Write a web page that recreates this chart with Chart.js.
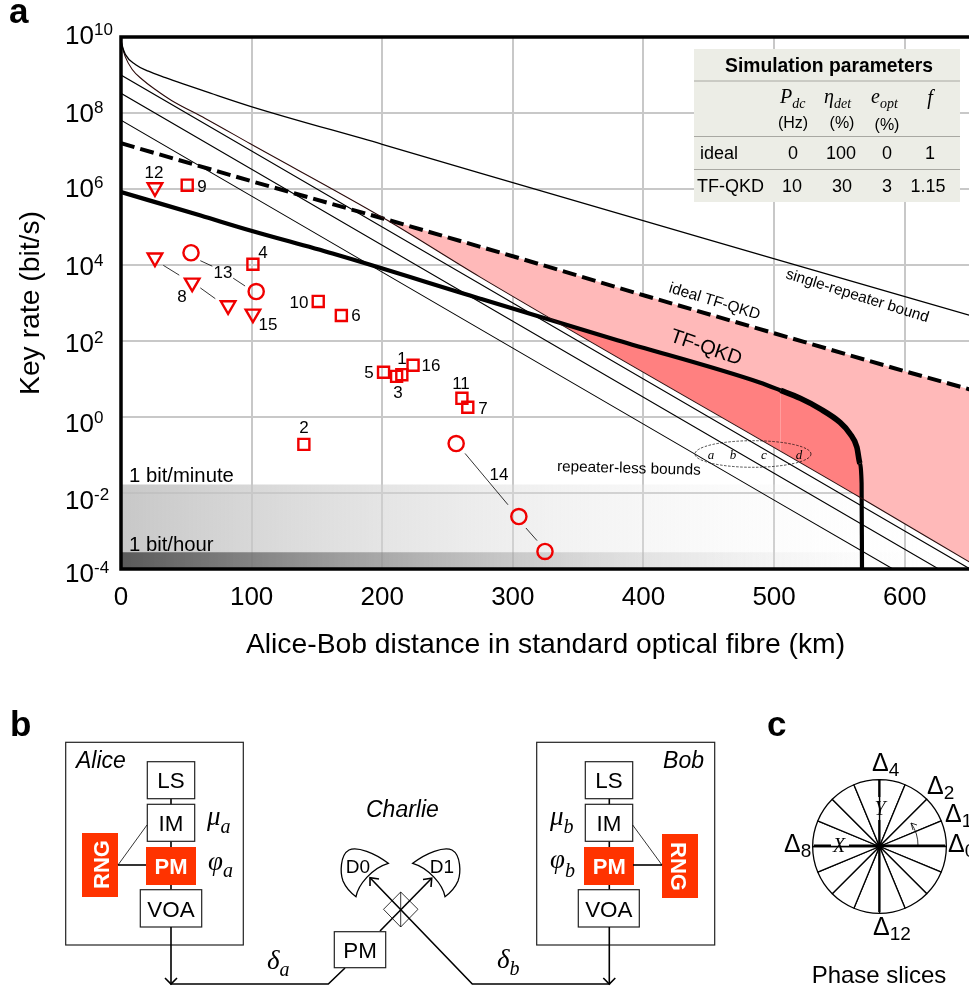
<!DOCTYPE html>
<html>
<head>
<meta charset="utf-8">
<title>TF-QKD key rate</title>
<script src="https://cdn.jsdelivr.net/npm/chart.js"></script>
<style>
  html, body { margin: 0; padding: 0; background: #fff; overflow: hidden; }
  #page { position: relative; width: 969px; height: 994px; overflow: hidden; font-family: "Liberation Sans", Arial, sans-serif; }
  #mainChart { position: absolute; left: 0; top: 0; }
  #phaseChart { position: absolute; left: 811px; top: 778px; }
  #overlay { position: absolute; left: 0; top: 0; }
  #overlay text { fill: #000; font-family: "Liberation Sans", Arial, sans-serif; }
  #overlay .math { font-family: "Liberation Serif", serif; font-style: italic; }
  #overlay .it { font-style: italic; }
  #overlay .box { fill: #fff; stroke: #222; stroke-width: 1.2; }
  #overlay .wire { stroke: #000; stroke-width: 1.6; fill: none; }
  #overlay .thin { stroke: #000; stroke-width: 0.8; fill: none; }
</style>
</head>
<body>
<div id="page">
  <canvas id="mainChart" width="970" height="680"></canvas>
  <canvas id="phaseChart" width="137" height="137"></canvas>
  <svg id="overlay" width="969" height="994" xmlns="http://www.w3.org/2000/svg"></svg>
</div>
<script>
// ---------- chart data (distance in km, rate in bit/s) ----------
const xTicks = [0, 100, 200, 300, 400, 500, 600];
const yExponents = [10, 8, 6, 4, 2, 0, -2, -4];

const singleKm = [0, 1, 3.3, 11, 21, 34, 47, 64.5, 99, 200, 275, 499, 650];
const singleRate = [8.4e9, 5.8e9, 3.5e9, 1.9e9, 1.26e9, 8.5e8, 5.9e8, 3.7e8, 1.5e8, 1.5e7, 2.6e6, 1.5e4, 470];

const boundDKm = [0, 1, 3.3, 8.6, 16.3, 26, 39, 64.5, 99, 200, 275, 566, 650];
const boundDRate = [8.4e9, 5.5e9, 3e9, 1.4e9, 7.6e8, 4.2e8, 2.1e8, 7.2e7, 1.55e7, 1.8e5, 4.8e3, 7.6e-3, 1.5e-4];

const boundCKm = [0, 100, 200, 300, 400, 500, 600, 650];
const boundCRate = [1e9, 1e7, 1e5, 1e3, 10, 0.1, 1e-3, 1e-4];

const boundBKm = [0, 100, 200, 300, 400, 500, 600, 626];
const boundBRate = [3.3e8, 3.3e6, 3.3e4, 330, 3.3, 0.033, 3.3e-4, 1e-4];

const boundAKm = [0, 100, 200, 300, 400, 500, 591];
const boundARate = [6.5e7, 6.5e5, 6.5e3, 65, 0.65, 6.5e-3, 1e-4];

const idealKm = [0, 100, 200, 300, 400, 500, 600, 650];
const idealRate = [1.6e7, 1.6e6, 1.7e5, 1.7e4, 1.6e3, 160, 16, 5.3];

const tfKm = [0, 61, 99, 162, 275, 380, 489, 505, 520, 535, 550.5, 558, 563.4, 565.7, 567, 567.3];
const tfRate = [8.3e5, 2e5, 8.1e4, 2e4, 1.3e3, 105, 8.1, 5, 3.1, 1.66, 0.72, 0.37, 0.16, 0.06, 0.018, 1e-4];

const squareIds = ["9", "4", "10", "6", "5", "3", "1", "16", "11", "7", "2"];
const squareKm = [50.7, 101, 151, 168.7, 201, 211, 215, 223.6, 261, 265.5, 140];
const squareRate = [1.26e6, 1.05e4, 1.1e3, 470, 15, 11.7, 13, 23, 3.1, 1.8, 0.19];

const circleIds = ["13", "13", "14", "14", "14"];
const circleKm = [53.6, 103.5, 256.6, 304.6, 324.6];
const circleRate = [2.1e4, 2e3, 0.2, 2.4e-3, 2.9e-4];

const triangleIds = ["12", "8", "8", "8", "15"];
const triangleKm = [26, 26, 54.5, 82, 101];
const triangleRate = [1.1e6, 1.55e4, 3.4e3, 860, 520];

// thin broken leader lines joining measurements of the same experiment
const leaderKm = [60.7, 69.9, null, 85.9, 95, null, 32.4, 44.6, null, 60.7, 72.2, null, 263.4, 296.3, null, 310, 318.5];
const leaderRate = [1.3e4, 9.3e3, null, 4.5e3, 2.8e3, null, 9.8e3, 5.4e3, null, 2.5e3, 1.3e3, null, 0.11, 4.9e-3, null, 1.2e-3, 5.6e-4];

const bandKm = [0, 650];
const bitPerMinute = [1 / 60, 1 / 60];
const bitPerHour = [1 / 3600, 1 / 3600];

const phaseSlices = [1, 1, 1, 1, 1, 1, 1, 1, 1, 1, 1, 1, 1, 1, 1, 1];

function pts(xs, ys) {
  return xs.map((x, i) => ({ x: x, y: ys[i] }));
}

const SANS = '"Liberation Sans", Arial, sans-serif';

function fade(startColor) {
  return (ctx) => {
    const area = ctx.chart.chartArea;
    if (!area) return startColor;
    const g = ctx.chart.ctx.createLinearGradient(area.left, 0, area.right, 0);
    g.addColorStop(0, startColor);
    g.addColorStop(1, "rgba(255,255,255,0)");
    return g;
  };
}

function curve(label, xs, ys, color, width, extra) {
  return Object.assign({
    label: label, data: pts(xs, ys), borderColor: color, borderWidth: width,
    pointRadius: 0, fill: false, order: 5
  }, extra || {});
}

function marks(label, xs, ys, style, radius, rotation) {
  return {
    label: label, data: pts(xs, ys), showLine: false, pointStyle: style,
    pointRadius: radius, pointRotation: rotation, pointBackgroundColor: "rgba(0,0,0,0)",
    pointBorderColor: "#f00000", pointBorderWidth: 2.4, order: 1
  };
}

/* ================================
   Plugin: superscript y labels and plot frame
================================ */
const framePlugin = {
  id: "frame",
  afterDraw(chart) {
    const { ctx, chartArea: a, scales } = chart;
    const nudge = [6.5, 9, 8, 10, 10.7, 14.5, 15.7, 13];
    ctx.save();
    ctx.fillStyle = "#000";
    ctx.textAlign = "left";
    ctx.textBaseline = "alphabetic";
    yExponents.forEach((e, i) => {
      const py = scales.y.getPixelForValue(Math.pow(10, e)) + nudge[i];
      ctx.font = "26px " + SANS;
      ctx.fillText("10", 65, py);
      ctx.font = "17px " + SANS;
      ctx.fillText(String(e), 94, py - 9);
    });
    ctx.strokeStyle = "#000";
    ctx.lineWidth = 3.5;
    ctx.strokeRect(a.left, a.top, a.width + 10, a.height);
    ctx.restore();
  }
};

/* ================================
   Chart: key rate vs distance
================================ */
const datasets = [
  curve("1 bit/minute", bandKm, bitPerMinute, "rgba(0,0,0,0)", 0, {
    fill: "start", backgroundColor: fade("rgba(190,190,190,0.85)"), order: 10 }),
  curve("1 bit/hour", bandKm, bitPerHour, "rgba(0,0,0,0)", 0, {
    fill: "start", backgroundColor: fade("rgba(70,70,70,0.85)"), order: 9 }),
  curve("single-repeater bound", singleKm, singleRate, "#000", 1.3, { cubicInterpolationMode: "monotone" }),
  curve("bound d", boundDKm, boundDRate, "#2a0d0d", 1.1, { cubicInterpolationMode: "monotone" }),
  curve("bound c", boundCKm, boundCRate, "#000", 1.1),
  curve("bound b", boundBKm, boundBRate, "#000", 1.1),
  curve("bound a", boundAKm, boundARate, "#000", 1.1),
  curve("ideal TF-QKD", idealKm, idealRate, "#000", 4, {
    borderDash: [14, 6], order: 8,
    fill: { target: 3, above: "#ffb9b9", below: "rgba(0,0,0,0)" } }),
  curve("TF-QKD", tfKm, tfRate, "#000", 4.2, {
    order: 7, cubicInterpolationMode: "monotone",
    segment: { borderWidth: (c) => (c.p0.parsed.x >= 500 && c.p1.parsed.x < 566 ? 5.6 : undefined) },
    fill: { target: 3, above: "#ff8080", below: "rgba(0,0,0,0)" } }),
  curve("leaders", leaderKm, leaderRate, "#000", 0.8, { spanGaps: false, order: 4 }),
  marks("squares", squareKm, squareRate, "rect", 7.8, 0),
  marks("circles", circleKm, circleRate, "circle", 7.6, 0),
  marks("triangles", triangleKm, triangleRate, "triangle", 8.4, 180)
];

new Chart(document.getElementById("mainChart").getContext("2d"), {
  type: "line",
  data: { datasets: datasets },
  plugins: [framePlugin],
  options: {
    responsive: false,
    animation: false,
    layout: { autoPadding: false, padding: { top: 37, left: 0, right: 0, bottom: 0 } },
    plugins: { legend: { display: false }, tooltip: { enabled: false } },
    scales: {
      x: {
        type: "linear", min: 0, max: 650,
        afterBuildTicks: (s) => { s.ticks = xTicks.map((v) => ({ value: v })); },
        afterFit: (s) => { s.height = 111; },
        grid: { color: "#c8c8c8", lineWidth: 2, drawTicks: false },
        border: { display: false },
        ticks: { color: "#000", maxRotation: 0, padding: 13, font: { family: SANS, size: 26 } },
        title: { display: true, text: "Alice-Bob distance in standard optical fibre (km)", color: "#000",
          font: { family: SANS, size: 28.3 }, padding: { top: 0, bottom: 18 } }
      },
      y: {
        type: "logarithmic", min: 1e-4, max: 1e10,
        afterBuildTicks: (s) => { s.ticks = yExponents.map((e) => ({ value: Math.pow(10, e) })); },
        afterFit: (s) => { s.width = 121; },
        grid: { color: "#c8c8c8", lineWidth: 2, drawTicks: false },
        border: { display: false },
        ticks: { display: false },
        title: { display: true, text: "Key rate (bit/s)", color: "#000",
          font: { family: SANS, size: 28.3 }, padding: { top: 14, bottom: 0 } }
      }
    }
  }
});

/* ================================
   Chart: phase slices
================================ */
new Chart(document.getElementById("phaseChart").getContext("2d"), {
  type: "pie",
  data: { labels: phaseSlices.map((v, i) => "slice " + i), datasets: [{
    data: phaseSlices, backgroundColor: "#fff", borderColor: "#000", borderWidth: 1.3, borderAlign: "center"
  }] },
  options: {
    responsive: false, animation: false,
    layout: { padding: 1 },
    plugins: { legend: { display: false }, tooltip: { enabled: false } }
  }
});

/* ================================
   Annotations and block diagram
================================ */
const markLabels = [
  ["12", 154, 178], ["9", 202, 192], ["4", 263, 258], ["13", 223, 278], ["8", 182, 302],
  ["15", 268, 330], ["10", 299, 308], ["6", 356, 321], ["5", 369, 378], ["1", 402, 364],
  ["16", 431, 371], ["3", 398, 398], ["11", 461, 389], ["7", 483, 414], ["2", 304, 433], ["14", 499, 480]
];

function sub(base, s, cls, size, subSize, x, y, dy) {
  return `<text class="${cls}" x="${x}" y="${y}" font-size="${size}">${base}<tspan dy="${dy || 5}" font-size="${subSize}">${s}</tspan></text>`;
}

function box(x, y, x2, y2, label, size, baseline) {
  const cx = (x + x2) / 2;
  return `<rect class="box" x="${x}" y="${y}" width="${x2 - x}" height="${y2 - y}"/>` +
    `<text x="${cx}" y="${baseline}" text-anchor="middle" font-size="${size}">${label}</text>`;
}

const detectorPath = "M388.3,863.3 C375,853 357,846 349,850 C340,855 340,873 343,881 C346,888 351,893 356,896.7 C358,885 372,868 388.3,863.3 Z";

function station(cx, ls, voa, rngBox, rngTextTransform) {
  let s = "";
  s += `<line class="wire" x1="${cx}" y1="798" x2="${cx}" y2="890"/>`;
  s += box(ls[0], 761.7, ls[1], 798.7, "LS", 22.4, 788);
  s += box(ls[0], 804.3, ls[1], 841.3, "IM", 22.4, 830.5);
  s += `<rect x="${ls[0] - 1.3}" y="847" width="${ls[1] - ls[0] + 2.6}" height="38" fill="#ff3300"/>`;
  s += `<text style="fill:#fff" font-weight="bold" font-size="22" text-anchor="middle" x="${cx}" y="873.5">PM</text>`;
  s += box(voa[0], 889.7, voa[1], 927, "VOA", 22.4, 917);
  s += `<rect x="${rngBox[0]}" y="${rngBox[1]}" width="36" height="64" fill="#ff3300"/>`;
  s += `<text style="fill:#fff" font-weight="bold" font-size="22" text-anchor="middle" transform="${rngTextTransform}">RNG</text>`;
  return s;
}

const svg = document.getElementById("overlay");
let html = "";

// panel letters
html += `<text x="9" y="23" font-size="35" font-weight="bold">a</text>`;
html += `<text x="10" y="736" font-size="35" font-weight="bold">b</text>`;
html += `<text x="767" y="736" font-size="35" font-weight="bold">c</text>`;

// band captions and curve captions
html += `<text x="129" y="482" font-size="20.3">1 bit/minute</text>`;
html += `<text x="129" y="551" font-size="20.3">1 bit/hour</text>`;
html += `<text font-size="15.5" transform="translate(668,292) rotate(17)">ideal TF-QKD</text>`;
html += `<text font-size="15.3" transform="translate(785,278) rotate(17.3)">single-repeater bound</text>`;
html += `<text font-size="20" transform="translate(669,341) rotate(19)">TF-QKD</text>`;
html += `<text font-size="15.3" transform="translate(557,471) rotate(1.5)">repeater-less bounds</text>`;
html += `<ellipse cx="753" cy="454" rx="58" ry="13.3" fill="none" stroke="#000" stroke-width="0.7" stroke-dasharray="2.5 1.5"/>`;
[["a", 711], ["b", 733], ["c", 764], ["d", 799]].forEach((p) => {
  html += `<text class="math" x="${p[1]}" y="459" font-size="13" text-anchor="middle">${p[0]}</text>`;
});
markLabels.forEach((m) => {
  html += `<text x="${m[1]}" y="${m[2]}" font-size="17" text-anchor="middle">${m[0]}</text>`;
});

// parameter table
html += `<rect x="694" y="49" width="266" height="153" fill="#ecede6"/>`;
[81, 136.5, 169.5].forEach((y) => {
  html += `<line x1="694" x2="960" y1="${y}" y2="${y}" stroke="#a8a8a2" stroke-width="1"/>`;
});
html += `<text x="829" y="72" font-size="19.3" font-weight="bold" text-anchor="middle">Simulation parameters</text>`;
html += sub("P", "dc", "math", 20, 14, 780, 103);
html += sub("η", "det", "math", 20, 14, 824, 103);
html += sub("e", "opt", "math", 20, 14, 871, 103);
html += `<text class="math" x="930" y="104" font-size="20" text-anchor="middle">f</text>`;
html += `<text x="793" y="128" font-size="16" text-anchor="middle">(Hz)</text>`;
html += `<text x="842" y="128" font-size="16" text-anchor="middle">(%)</text>`;
html += `<text x="887" y="130" font-size="16" text-anchor="middle">(%)</text>`;
html += `<text x="700" y="159" font-size="18">ideal</text>`;
html += `<text x="697" y="192" font-size="18">TF-QKD</text>`;
[["0", 793, 159], ["100", 841, 159], ["0", 887, 159], ["1", 930, 159],
 ["10", 792, 192], ["30", 842, 192], ["3", 887, 192], ["1.15", 928, 192]].forEach((c) => {
  html += `<text x="${c[1]}" y="${c[2]}" font-size="18" text-anchor="middle">${c[0]}</text>`;
});

// Alice and Bob enclosures
html += `<rect x="65.7" y="742.3" width="177.6" height="202.7" fill="none" stroke="#222" stroke-width="1.2"/>`;
html += `<rect x="536.7" y="742.3" width="178" height="202.7" fill="none" stroke="#222" stroke-width="1.2"/>`;
html += `<text class="it" x="76" y="768" font-size="23">Alice</text>`;
html += `<text class="it" x="704" y="768" font-size="23" text-anchor="end">Bob</text>`;
html += `<text class="it" x="366" y="817" font-size="23">Charlie</text>`;

html += station(171, [147.3, 194.7], [140.3, 201.7], [82, 833], "translate(109,864.5) rotate(-90)");
html += station(609.3, [585.3, 632.7], [578.3, 639.3], [662, 834], "translate(671,866.5) rotate(90)");

// RNG wiring
html += `<line class="wire" x1="118" y1="865" x2="146" y2="865"/>`;
html += `<line class="thin" x1="118" y1="865" x2="147" y2="825"/>`;
html += `<line class="wire" x1="633" y1="865" x2="662" y2="865"/>`;
html += `<line class="thin" x1="632.7" y1="825" x2="662" y2="865"/>`;

// fibre path
html += `<path class="wire" d="M171,927 V984 H328.3 L345,968"/>`;
html += `<path class="wire" d="M609.3,927 V984 H472.3 L370,877.7"/>`;
html += `<path class="wire" d="M380,931 L431.7,878.3"/>`;
html += `<path class="wire" d="M165,978 L171,984 L177,978"/>`;
html += `<path class="wire" d="M603.3,978 L609.3,984 L615.3,978"/>`;
html += `<path class="wire" d="M370,886 L370,877.7 L379,879"/>`;
html += `<path class="wire" d="M423,879.5 L431.7,878.3 L431,887"/>`;

// beam splitter, detectors and Charlie's modulator
html += `<path class="thin" d="M400.7,892 L418,909.3 L400.7,927 L383.5,909.3 Z M400.7,892 V927"/>`;
html += `<path d="${detectorPath}" fill="none" stroke="#000" stroke-width="1.3"/>`;
html += `<path d="${detectorPath}" fill="none" stroke="#000" stroke-width="1.3" transform="translate(801,0) scale(-1,1)"/>`;
html += `<text x="358" y="873" font-size="19" text-anchor="middle">D0</text>`;
html += `<text x="442" y="873" font-size="19" text-anchor="middle">D1</text>`;
html += box(334.3, 931.7, 385.7, 967.7, "PM", 22.4, 958);

// modulation symbols
html += sub("μ", "a", "math", 27, 20, 207, 825, 8);
html += sub("φ", "a", "math", 27, 20, 208, 870, 7);
html += sub("μ", "b", "math", 27, 20, 550, 825, 8);
html += sub("φ", "b", "math", 27, 20, 550, 868, 9);
html += sub("δ", "a", "math", 27, 20, 267, 969, 7);
html += sub("δ", "b", "math", 27, 20, 497, 968, 7);

// phase slice axes
html += `<path d="M814,845.7 H831 M849,845.7 H945 M879.3,780 V797 M879.3,820 V912" stroke="#000" stroke-width="2.2" fill="none"/>`;
html += `<text class="math" x="839" y="852" font-size="20" text-anchor="middle">X</text>`;
html += `<text class="math" x="880" y="815" font-size="20" text-anchor="middle">Y</text>`;
html += `<path class="thin" stroke-width="1" d="M918,846 A39,39 0 0 0 911,823 M911,823 L913,830 M911,823 L917,825"/>`;
[["4", 872, 771], ["2", 927, 794], ["1", 945, 822], ["0", 948, 852], ["8", 784, 852], ["12", 873, 935]].forEach((d) => {
  html += sub("Δ", d[0], "", 25, 19, d[1], d[2]);
});
html += `<text x="879" y="983" font-size="24" text-anchor="middle">Phase slices</text>`;

svg.innerHTML = html;
</script>
</body>
</html>
